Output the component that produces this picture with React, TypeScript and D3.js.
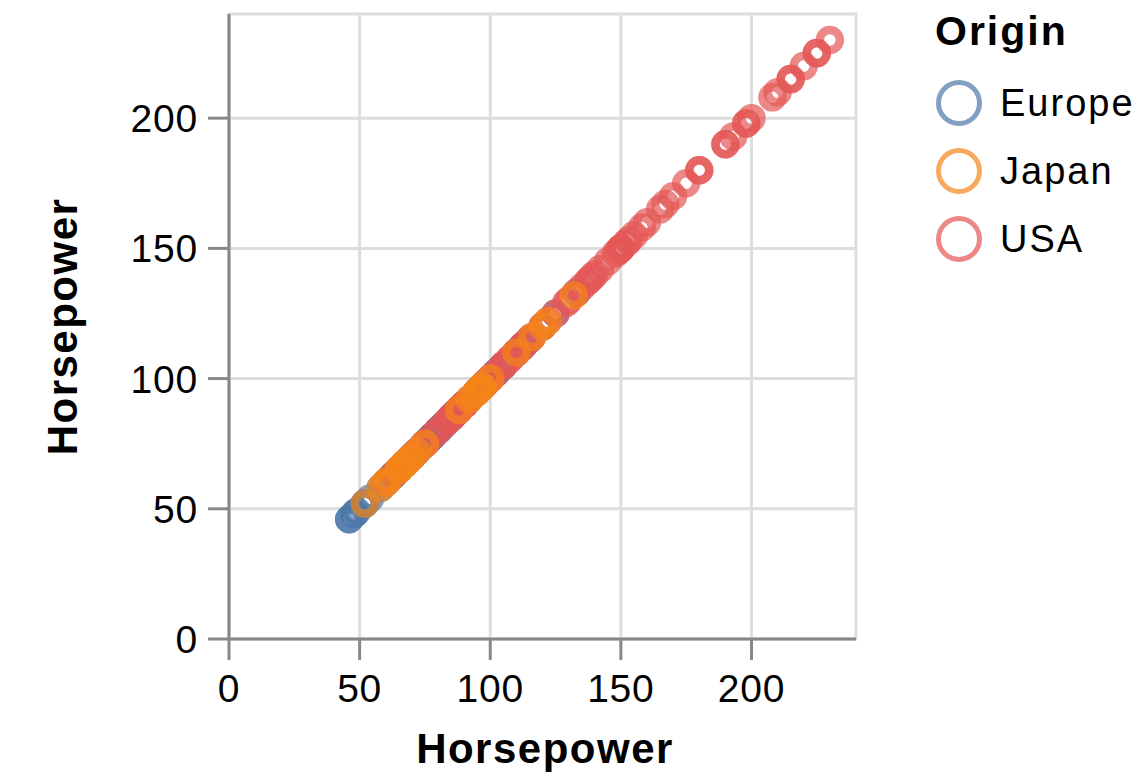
import React, { useEffect, useRef } from "react";
import * as d3 from "d3";

const origins = ["Europe", "Japan", "USA"];
const colors = ["#4c78a8", "#f58518", "#e45756"];
const ticks = [0, 50, 100, 150, 200];

const europeHP = [46, 46, 48, 48, 49, 52, 52, 54, 58, 60, 62, 63, 65, 67, 67, 69, 70, 71, 74, 76, 77, 78, 80, 81, 83, 85, 86, 87, 88, 90, 95, 97, 98, 102, 103, 105, 110, 112, 113, 115, 120, 125, 133];
const usaHP = [60, 63, 65, 67, 68, 70, 72, 75, 75, 78, 80, 82, 84, 85, 85, 86, 88, 88, 90, 90, 92, 95, 97, 98, 100, 100, 102, 105, 105, 107, 108, 110, 110, 112, 113, 115, 116, 120, 122, 125, 129, 130, 133, 135, 137, 138, 139, 140, 142, 145, 148, 149, 150, 150, 150, 152, 153, 155, 158, 160, 165, 167, 170, 175, 180, 180, 190, 190, 193, 198, 198, 200, 208, 210, 215, 215, 220, 225, 225, 230];
const japanHP = [52, 58, 60, 61, 65, 65, 67, 67, 68, 69, 70, 72, 75, 88, 92, 94, 95, 96, 97, 97, 100, 110, 116, 120, 122, 132];

export default function App() {
  const ref = useRef<SVGSVGElement>(null);

  useEffect(() => {
    const svg = d3.select(ref.current);
    svg.selectAll("*").remove();
    const font = "'Liberation Sans', Arial, Helvetica, sans-serif";

    const x = d3.scaleLinear().domain([0, 240]).range([229, 856]);
    const y = d3.scaleLinear().domain([0, 240]).range([639, 14]);
    const color = d3.scaleOrdinal<string, string>().domain(origins).range(colors);

    // view border
    svg.append("rect")
      .attr("x", x(0)).attr("y", y(240))
      .attr("width", x(240) - x(0)).attr("height", y(0) - y(240))
      .attr("fill", "none").attr("stroke", "#ddd").attr("stroke-width", 3);

    // grid
    const g = svg.append("g");
    ticks.forEach((t) => {
      g.append("line").attr("x1", x(t)).attr("x2", x(t)).attr("y1", y(0)).attr("y2", y(240))
        .attr("stroke", "#ddd").attr("stroke-width", 3);
      g.append("line").attr("y1", y(t)).attr("y2", y(t)).attr("x1", x(0)).attr("x2", x(240))
        .attr("stroke", "#ddd").attr("stroke-width", 3);
    });

    // points
    const series: [string, number[]][] = [["Europe", europeHP], ["USA", usaHP], ["Japan", japanHP]];
    const pts = svg.append("g");
    series.forEach(([o, vals]) => {
      pts.selectAll(null).data(vals).enter().append("circle")
        .attr("cx", (d) => x(d)).attr("cy", (d) => y(d)).attr("r", 10)
        .attr("fill", "none").attr("stroke", color(o)).attr("stroke-width", 8.5)
        .attr("stroke-opacity", 0.7);
    });

    // axes
    const ax = svg.append("g");
    ax.append("line").attr("x1", x(0)).attr("x2", x(240)).attr("y1", y(0)).attr("y2", y(0))
      .attr("stroke", "#888").attr("stroke-width", 3);
    ax.append("line").attr("x1", x(0)).attr("x2", x(0)).attr("y1", y(0)).attr("y2", y(240))
      .attr("stroke", "#888").attr("stroke-width", 3);
    ticks.forEach((t) => {
      ax.append("line").attr("x1", x(t)).attr("x2", x(t)).attr("y1", y(0)).attr("y2", y(0) + 21)
        .attr("stroke", "#888").attr("stroke-width", 3);
      ax.append("line").attr("y1", y(t)).attr("y2", y(t)).attr("x1", x(0) - 21).attr("x2", x(0))
        .attr("stroke", "#888").attr("stroke-width", 3);
      ax.append("text").attr("x", x(t)).attr("y", 702).attr("text-anchor", "middle")
        .attr("font-family", font).attr("font-size", 39).attr("letter-spacing", 0.8).attr("fill", "#000").text(String(t));
      ax.append("text").attr("x", 198).attr("y", y(t) + 14).attr("text-anchor", "end")
        .attr("font-family", font).attr("font-size", 39).attr("letter-spacing", 0.8).attr("fill", "#000").text(String(t));
    });

    ax.append("text").attr("x", 545).attr("y", 763).attr("text-anchor", "middle")
      .attr("font-family", font).attr("font-size", 42).attr("font-weight", "bold").attr("letter-spacing", 1.5)
      .text("Horsepower");
    ax.append("text").attr("transform", `translate(77, ${(y(0) + y(240)) / 2}) rotate(-90)`)
      .attr("text-anchor", "middle")
      .attr("font-family", font).attr("font-size", 42).attr("font-weight", "bold").attr("letter-spacing", 1.5)
      .text("Horsepower");

    // legend
    const lg = svg.append("g");
    lg.append("text").attr("x", 935).attr("y", 45).attr("font-family", font).attr("font-size", 41)
      .attr("font-weight", "bold").attr("letter-spacing", 2).text("Origin");
    origins.forEach((o, i) => {
      const cy = 103 + i * 68;
      lg.append("circle").attr("cx", 959).attr("cy", cy).attr("r", 20.5)
        .attr("fill", "none").attr("stroke", color(o)).attr("stroke-width", 5).attr("stroke-opacity", 0.7);
      lg.append("text").attr("x", 1000).attr("y", cy + 13).attr("font-family", font).attr("font-size", 38)
        .attr("letter-spacing", 2).text(o);
    });
  }, []);

  return (
    <svg ref={ref} width={1143} height={777} style={{ position: "absolute", left: 0, top: 0, background: "#fff" }} />
  );
}
